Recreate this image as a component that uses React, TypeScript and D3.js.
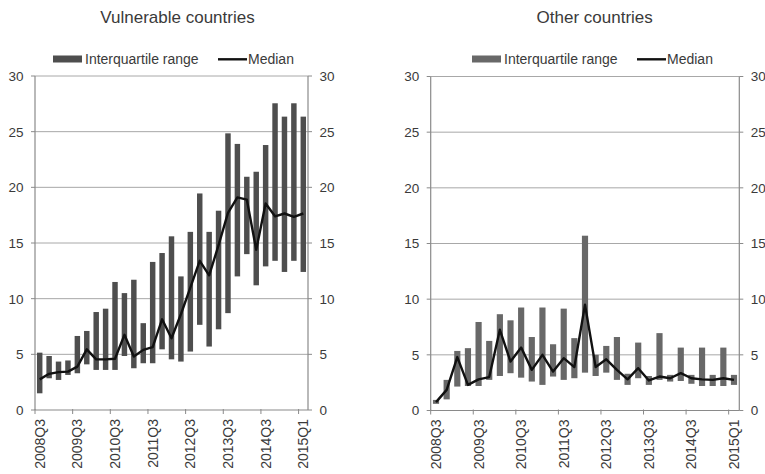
import React from "react";
import * as d3 from "d3";

// Quarterly observations, 2008Q3 onwards (29 periods per panel)
const periods = d3.range(29);
const tickPeriods = [0, 4, 8, 12, 16, 20, 24, 28];
const tickLabels = ["2008Q3", "2009Q3", "2010Q3", "2011Q3", "2012Q3", "2013Q3", "2014Q3", "2015Q1"];
const yTicks = [0, 5, 10, 15, 20, 25, 30];

// Vulnerable countries
const vulnLow = [1.5, 2.85, 2.7, 3.15, 3.3, 4.1, 3.6, 3.6, 3.6, 4.85, 3.75, 4.2, 4.2, 5.45, 4.55, 4.35, 5.25, 7.65, 5.7, 7.25, 8.7, 12.0, 14.0, 11.2, 12.9, 13.4, 12.4, 13.4, 12.4];
const vulnHigh = [5.15, 4.85, 4.35, 4.45, 6.65, 7.1, 8.8, 9.1, 11.5, 10.5, 11.7, 7.8, 13.3, 14.1, 15.6, 12.0, 16.0, 19.45, 16.0, 17.9, 24.85, 23.9, 20.95, 21.4, 23.8, 27.55, 26.35, 27.55, 26.35];
const vulnMedian = [2.75, 3.25, 3.4, 3.45, 3.9, 5.45, 4.55, 4.55, 4.6, 6.75, 4.8, 5.4, 5.65, 8.15, 6.45, 8.6, 11.0, 13.4, 12.1, 14.8, 17.7, 19.1, 18.9, 14.4, 18.55, 17.4, 17.65, 17.35, 17.65];

// Other countries
const otherLow = [0.6, 1.0, 2.15, 2.2, 2.2, 2.75, 3.1, 3.35, 2.95, 2.6, 2.3, 3.05, 2.75, 2.9, 3.4, 3.1, 3.4, 2.75, 2.3, 2.9, 2.3, 2.75, 2.6, 2.65, 2.4, 2.2, 2.2, 2.2, 2.3];
const otherHigh = [0.95, 2.75, 5.35, 5.6, 7.95, 6.25, 8.65, 8.1, 9.25, 6.6, 9.25, 5.95, 9.15, 6.5, 15.7, 5.0, 5.8, 6.6, 3.3, 6.1, 3.1, 6.95, 3.2, 5.65, 3.2, 5.65, 3.2, 5.65, 3.2];
const otherMedian = [0.75, 1.85, 4.8, 2.3, 2.8, 3.0, 7.25, 4.4, 5.65, 3.65, 5.0, 3.5, 4.7, 3.9, 9.5, 3.9, 4.6, 3.65, 2.8, 3.8, 2.7, 3.05, 2.9, 3.35, 2.9, 2.8, 2.75, 2.9, 2.75];

const FONT = "'Liberation Sans', Arial, sans-serif";
const AXIS = "#8a8a8a";
const GRID = "#a8a8a8";
const TEXT = "#3a3a3a";

type PanelProps = {
  title: string;
  titleX: number;
  x0: number;
  x1: number;
  yTop: number;
  yBottom: number;
  low: number[];
  high: number[];
  median: number[];
  barColor: string;
  legendX: number;
};

function Panel({ title, titleX, x0, x1, yTop, yBottom, low, high, median, barColor, legendX }: PanelProps) {
  const x = d3.scaleBand<number>().domain(periods).range([x0, x1]).paddingInner(0.42).paddingOuter(0.21);
  const y = d3.scaleLinear().domain([0, 30]).range([yBottom, yTop]);
  const step = x.step();
  const cx = (i: number) => (x(i) as number) + x.bandwidth() / 2;
  const line = d3
    .line<number>()
    .x((_, i) => cx(i))
    .y((d) => y(d));

  return (
    <g>
      <text x={titleX} y={23} textAnchor="middle" fontSize={17} fill={TEXT} fontFamily={FONT}>
        {title}
      </text>

      {/* legend */}
      <g fontFamily={FONT} fontSize={14} fill={TEXT}>
        <rect x={legendX} y={55.5} width={29} height={7} fill={barColor} />
        <text x={legendX + 32} y={64}>Interquartile range</text>
        <line x1={legendX + 165} x2={legendX + 194} y1={59.3} y2={59.3} stroke="#111" strokeWidth={2.4} />
        <text x={legendX + 195} y={64}>Median</text>
      </g>

      {/* gridlines */}
      {yTicks.filter((t) => t > 0).map((t) => (
        <line key={t} x1={x0} x2={x1} y1={y(t)} y2={y(t)} stroke={GRID} strokeWidth={1} />
      ))}

      {/* interquartile bars */}
      {periods.map((i) => (
        <rect
          key={i}
          x={x(i)}
          width={x.bandwidth()}
          y={y(high[i])}
          height={y(low[i]) - y(high[i])}
          fill={barColor}
        />
      ))}

      {/* median */}
      <path d={line(median) || ""} fill="none" stroke="#111" strokeWidth={2.4} strokeLinejoin="round" />

      {/* axes */}
      <line x1={x0} x2={x0} y1={yTop} y2={yBottom} stroke={AXIS} strokeWidth={1.2} />
      <line x1={x1} x2={x1} y1={yTop} y2={yBottom} stroke={AXIS} strokeWidth={1.2} />
      <line x1={x0} x2={x1} y1={yBottom} y2={yBottom} stroke={AXIS} strokeWidth={1.2} />

      {yTicks.map((t) => (
        <g key={t} fontFamily={FONT} fontSize={13.5} fill={TEXT}>
          <line x1={x0 - 4} x2={x0} y1={y(t)} y2={y(t)} stroke={AXIS} />
          <line x1={x1} x2={x1 + 4} y1={y(t)} y2={y(t)} stroke={AXIS} />
          <text x={x0 - 11.5} y={y(t)} dy="0.36em" textAnchor="end">
            {t}
          </text>
          <text x={x1 + 11.5} y={y(t)} dy="0.36em" textAnchor="start">
            {t}
          </text>
        </g>
      ))}

      {tickPeriods.map((p, k) => (
        <g key={p} fontFamily={FONT} fontSize={14} fill={TEXT}>
          <line x1={x0 + p * step} x2={x0 + p * step} y1={yBottom - 1} y2={yBottom + 4} stroke={AXIS} />
          <text
            transform={`translate(${cx(p)},${yBottom + 9}) rotate(-90)`}
            textAnchor="end"
            dominantBaseline="central"
          >
            {tickLabels[k]}
          </text>
        </g>
      ))}
    </g>
  );
}

export default function App() {
  return (
    <svg
      width={765}
      height={474}
      viewBox="0 0 765 474"
      style={{ position: "absolute", left: 0, top: 0, background: "#fff" }}
    >
      <rect width={765} height={474} fill="#fff" />
      <Panel
        title="Vulnerable countries"
        titleX={177.5}
        x0={35}
        x1={308}
        yTop={76}
        yBottom={410}
        low={vulnLow}
        high={vulnHigh}
        median={vulnMedian}
        barColor="#4e4e4e"
        legendX={53}
      />
      <Panel
        title="Other countries"
        titleX={594.7}
        x0={430.7}
        x1={739.3}
        yTop={76.5}
        yBottom={410.5}
        low={otherLow}
        high={otherHigh}
        median={otherMedian}
        barColor="#686868"
        legendX={472}
      />
    </svg>
  );
}
